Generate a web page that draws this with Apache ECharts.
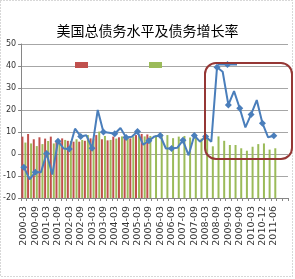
<!DOCTYPE html>
<html>
<head>
<meta charset="utf-8">
<script src="https://cdn.jsdelivr.net/npm/echarts@6/dist/echarts.min.js"></script>
<style>html,body{margin:0;padding:0;background:#fff}#c{width:295px;height:279px}</style>
</head>
<body>
<div id="c"></div>
<script>
const titleText = '美国总债务水平及债务增长率';
const categories = [
  '2000-03','2000-06','2000-09','2000-12',
  '2001-03','2001-06','2001-09','2001-12',
  '2002-03','2002-06','2002-09','2002-12',
  '2003-03','2003-06','2003-09','2003-12',
  '2004-03','2004-06','2004-09','2004-12',
  '2005-03','2005-06','2005-09','2005-12',
  '2006-03','2006-06','2006-09','2006-12',
  '2007-03','2007-06','2007-09','2007-12',
  '2008-03','2008-06','2008-09','2008-12',
  '2009-03','2009-06','2009-09','2009-12',
  '2010-03','2010-06','2010-12','2011-03','2011-06',' ','  '
];
// bar tops as read on the left scale (bars rise from the -20 floor)
const redBarTop = [7.9,9.1,6.7,7.6,7.0,7.9,6.0,7.1,6.0,5.6,5.6,6.0,7.1,8.6,6.7,6.2,7.9,7.6,8.2,7.1,8.6,9.1,8.9];
const greenBarTop = [5.2,4.8,3.6,4.5,5.9,4.8,5.5,6.4,5.9,6.7,6.4,8.6,7.0,10.2,8.2,6.4,7.0,8.0,7.5,8.0,8.5,8.0,8.2,8.5,9.1,8.6,7.2,7.9,8.2,7.5,8.6,7.0,8.6,3.5,8.0,6.0,4.1,4.1,2.6,1.5,3.3,4.5,4.8,2.0,2.6];
const growthRate = [-6,-11.5,-8.3,-8.3,0.2,-9.3,5.8,2.5,2.3,11.5,8,8.5,2.6,20,10,9.7,9.2,11.8,7.5,7.8,10.2,4.2,6,8,8.4,2.5,2.5,2.8,6.2,-0.6,8.4,5.6,7.9,5.6,39.4,37.4,22.3,28.6,20.8,12.1,18,24.5,14,7.6,8.3];
const yTicks = {min:-20, max:50, step:10};

const chart = echarts.init(document.getElementById('c'), null, {renderer:'canvas'});
const floor = yTicks.min;
const span = yTicks.max - yTicks.min;
chart.setOption({
  animation:false,
  title:{text:titleText,left:'center',top:19,textStyle:{fontFamily:'Noto Sans CJK SC',fontSize:14,fontWeight:'normal',color:'#000'}},
  legend:[
    {data:['总债务水平A'],left:75,top:62,icon:'rect',itemWidth:13,itemHeight:6,formatter:()=>'',itemGap:0,padding:0,textStyle:{fontSize:1}},
    {data:['总债务水平B'],left:149,top:62,icon:'rect',itemWidth:13,itemHeight:6,formatter:()=>'',itemGap:0,padding:0,textStyle:{fontSize:1}},
    {data:['债务增长率'],left:217,top:60,itemWidth:19,itemHeight:9,formatter:()=>'',itemGap:0,padding:0,textStyle:{fontSize:1}}
  ],
  grid:{left:20,top:44,width:268,height:154,containLabel:false},
  xAxis:{type:'category',data:categories,boundaryGap:true,
    axisLine:{onZero:false,lineStyle:{color:'#868686'}},
    axisTick:{show:true,interval:0,length:3,lineStyle:{color:'#868686'}},
    axisLabel:{interval:1,rotate:90,margin:8,fontSize:9.5,fontFamily:'DejaVu Sans',color:'#333'}},
  yAxis:[
    {type:'value',min:yTicks.min,max:yTicks.max,interval:yTicks.step,
      axisLine:{show:true,lineStyle:{color:'#868686'}},
      axisTick:{show:true,length:3,lineStyle:{color:'#868686'}},
      axisLabel:{fontSize:8,fontFamily:'DejaVu Sans',color:'#333',margin:5},
      splitLine:{lineStyle:{color:'#a6a6a6',width:1}}},
    {type:'value',min:0,max:span,show:false,splitLine:{show:false}}
  ],
  series:[
    {name:'总债务水平A',type:'bar',yAxisIndex:1,data:redBarTop.map(v=>v-floor),barWidth:2,barGap:'50%',itemStyle:{color:'#C0504D'}},
    {name:'总债务水平B',type:'bar',yAxisIndex:1,data:greenBarTop.map(v=>v-floor),barWidth:2,itemStyle:{color:'#9BBB59'}},
    {name:'债务增长率',type:'line',data:growthRate,symbol:'diamond',symbolSize:7,
      lineStyle:{color:'#4A7EBB',width:2},itemStyle:{color:'#4A7EBB'},z:5}
  ],
  graphic:[
    {type:'rect',shape:{x:205,y:63,width:87,height:96,r:11},style:{fill:'none',stroke:'#953735',lineWidth:2},z:10},
    {type:'rect',shape:{x:0.5,y:0.5,width:292,height:276},style:{fill:'none',stroke:'#b0b0b0',lineWidth:1,lineDash:[1,2]},z:0,silent:true}
  ]
});
</script>
</body>
</html>
